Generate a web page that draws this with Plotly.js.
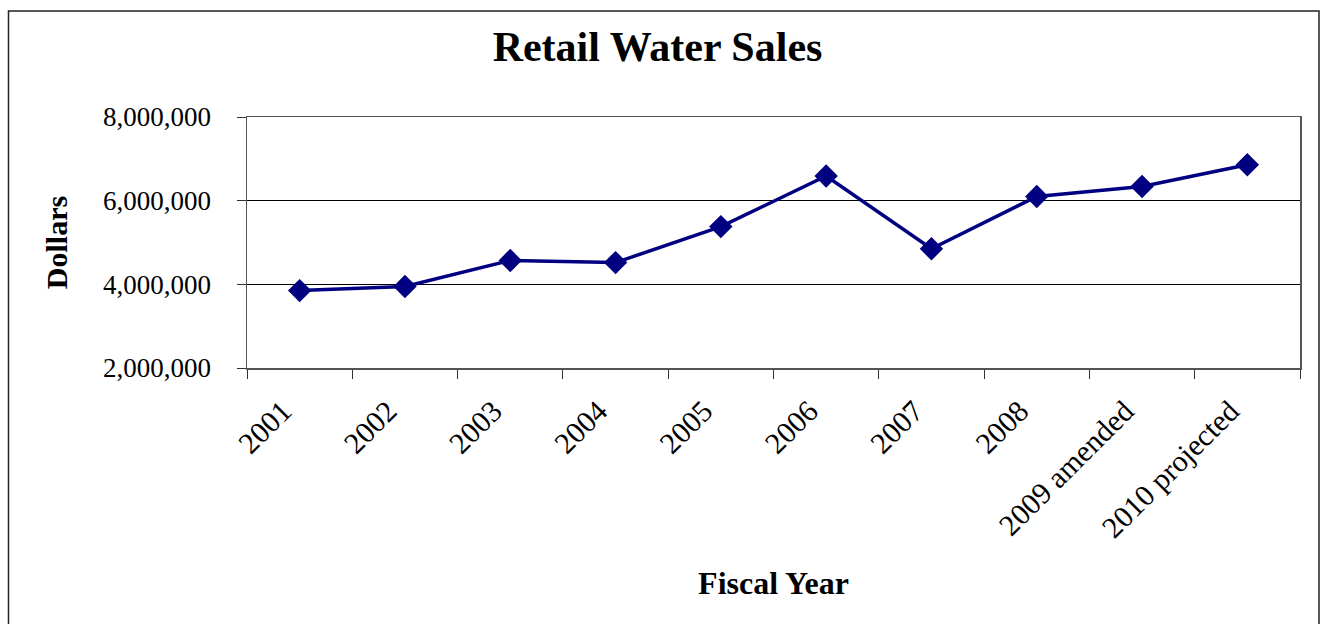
<!DOCTYPE html>
<html>
<head>
<meta charset="utf-8">
<script src="https://cdn.plot.ly/plotly-3.0.1.min.js"></script>
<style>
  html, body { margin: 0; padding: 0; background: #fff; }
  #chart { width: 1323px; height: 624px; }
</style>
</head>
<body>
<div id="chart"></div>
<script>
const categories = ["2001", "2002", "2003", "2004", "2005", "2006", "2007", "2008", "2009 amended", "2010 projected"];
const sales = [3850000, 3950000, 4570000, 4520000, 5380000, 6590000, 4850000, 6100000, 6340000, 6860000];
const yTickVals = [2000000, 4000000, 6000000, 8000000];

const W = 1323, H = 624;
const M = { l: 247, r: 23, t: 117, b: 256 };
const pw = W - M.l - M.r, ph = H - M.t - M.b;
const px = x => (x - M.l) / pw;
const py = y => (H - M.b - y) / ph;

const font = "'Liberation Serif', 'Times New Roman', serif";

const trace = {
  x: categories,
  y: sales,
  type: 'scatter',
  mode: 'lines+markers',
  line: { color: '#000080', width: 3.5 },
  marker: { symbol: 'diamond', size: 18, color: '#000080' },
  hoverinfo: 'x+y'
};

const layout = {
  width: W, height: H,
  margin: M,
  paper_bgcolor: '#ffffff',
  plot_bgcolor: '#ffffff',
  showlegend: false,
  font: { family: font, color: '#000', size: 27 },
  title: {
    text: '<b>Retail Water Sales</b>',
    font: { family: font, size: 42, color: '#000' },
    x: 0.497, xref: 'container', xanchor: 'center',
    y: 0.926, yref: 'container', yanchor: 'middle'
  },
  xaxis: {
    type: 'category',
    range: [-0.5, categories.length - 0.5],
    tickangle: -45,
    tickson: 'boundaries',
    ticks: 'outside', ticklen: 9, tickcolor: '#333', tickwidth: 1,
    ticklabelstandoff: 12,
    ticklabelshift: -17,
    showline: true, linecolor: '#555', linewidth: 1.5, mirror: true,
    showgrid: false,
    tickfont: { family: font, size: 30, color: '#000' },
    title: { text: '<b>Fiscal Year</b>', font: { family: font, size: 32, color: '#000' }, standoff: 28 },
    fixedrange: true
  },
  yaxis: {
    range: [2000000, 8000000],
    tickvals: yTickVals,
    tickformat: ',d',
    ticks: 'outside', ticklen: 9, tickcolor: '#333', tickwidth: 1,
    ticklabelstandoff: 20,
    showline: true, linecolor: '#555', linewidth: 1.5, mirror: true,
    showgrid: true, gridcolor: '#000', gridwidth: 1,
    zeroline: false,
    tickfont: { family: font, size: 27, color: '#000' },
    title: { text: '<b>Dollars</b>', font: { family: font, size: 30, color: '#000' }, standoff: 26 },
    fixedrange: true
  },
  shapes: [
    {
      type: 'rect', xref: 'paper', yref: 'paper',
      x0: px(8.5), x1: px(1319), y0: py(640), y1: py(11),
      line: { color: '#222', width: 1.5 }, fillcolor: 'rgba(0,0,0,0)', layer: 'below'
    }
  ]
};

Plotly.newPlot('chart', [trace], layout, { displayModeBar: false, staticPlot: true });
</script>
</body>
</html>
